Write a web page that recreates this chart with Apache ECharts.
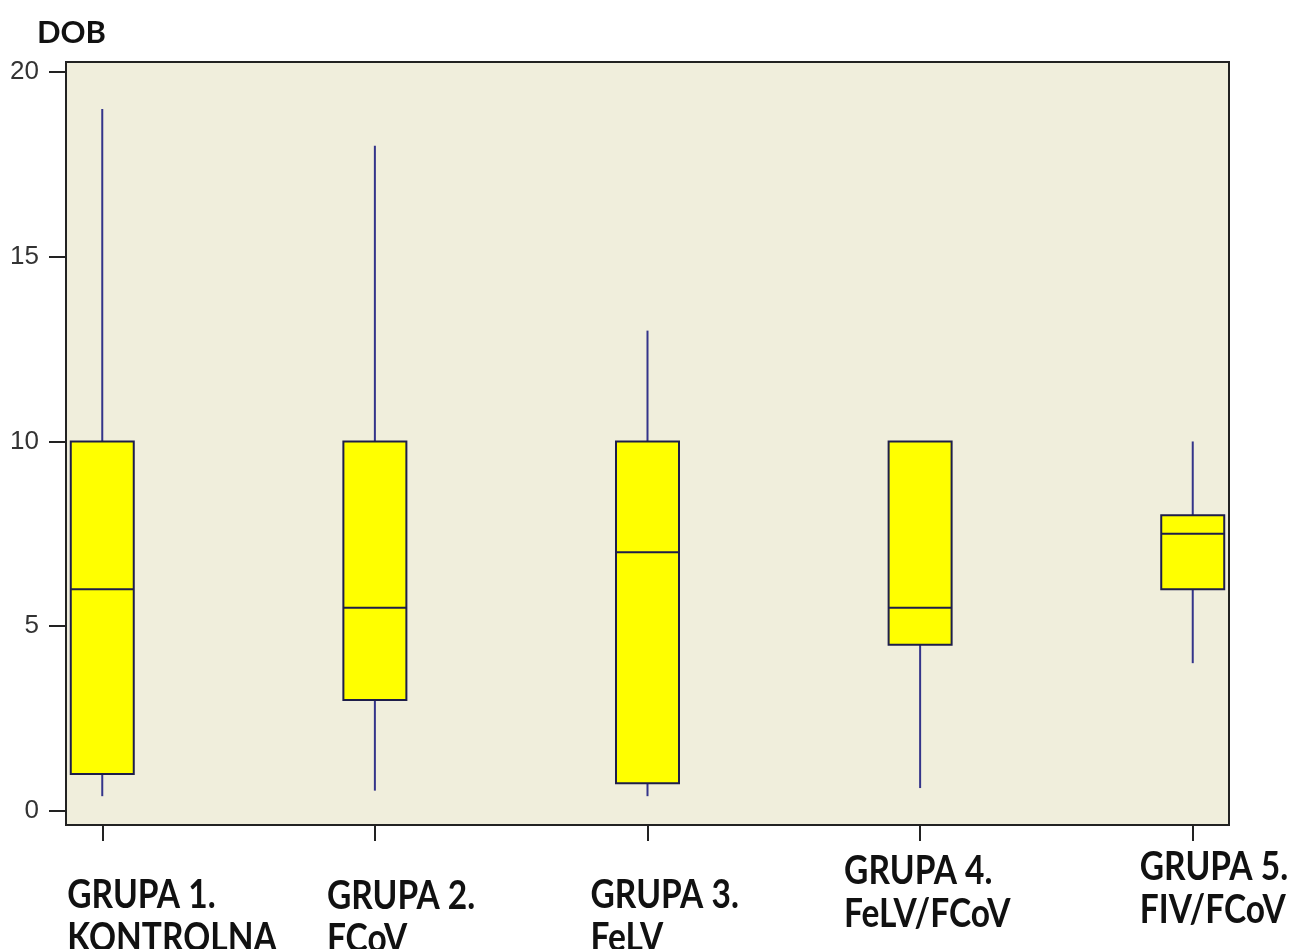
<!DOCTYPE html>
<html>
<head>
<meta charset="utf-8">
<script src="https://cdn.jsdelivr.net/npm/echarts@6/dist/echarts.min.js"></script>
<style>html,body{margin:0;padding:0;background:#fff;}#c{width:1293px;height:949px;}</style>
</head>
<body>
<div id="c"></div>
<script>
// ---- data ----
const groupLine1 = ['GRUPA 1.', 'GRUPA 2.', 'GRUPA 3.', 'GRUPA 4.', 'GRUPA 5.'];
const groupLine2 = ['KONTROLNA', 'FCoV', 'FeLV', 'FeLV/FCoV', 'FIV/FCoV'];
const mins    = [0.4, 0.55, 0.4, 0.62, 4.0];
const q1s     = [1.0, 3.0, 0.75, 4.5, 6.0];
const medians = [6.0, 5.5, 7.0, 5.5, 7.5];
const q3s     = [10, 10, 10, 10, 8];
const maxs    = [19, 18, 13, 10, 10];
const yTicks  = [0, 5, 10, 15, 20];
const yTitle  = 'DOB';

// ---- build ----
const xTicks = groupLine1.map((_, i) => i);
const boxData = groupLine1.map((_, i) => [i, mins[i], q1s[i], medians[i], q3s[i], maxs[i]]);

const chart = echarts.init(document.getElementById('c'), null, {renderer: 'canvas'});

const BOX_W = 63;
function renderBox(params, api) {
  const x = api.value(0);
  const pMin = api.coord([x, api.value(1)]);
  const pQ1 = api.coord([x, api.value(2)]);
  const pMed = api.coord([x, api.value(3)]);
  const pQ3 = api.coord([x, api.value(4)]);
  const pMax = api.coord([x, api.value(5)]);
  const cx = pMed[0];
  const half = BOX_W / 2;
  const whisker = {stroke: '#34348a', lineWidth: 2};
  const edge = {stroke: '#1e1e4a', lineWidth: 2};
  const children = [];
  if (pQ3[1] - pMax[1] > 0.5) {
    children.push({type: 'line', shape: {x1: cx, y1: pMax[1], x2: cx, y2: pQ3[1]}, style: whisker});
  }
  if (pMin[1] - pQ1[1] > 0.5) {
    children.push({type: 'line', shape: {x1: cx, y1: pQ1[1], x2: cx, y2: pMin[1]}, style: whisker});
  }
  children.push({type: 'rect', shape: {x: cx - half, y: pQ3[1], width: BOX_W, height: pQ1[1] - pQ3[1]},
    style: {fill: '#FFFF00', stroke: '#1e1e4a', lineWidth: 2}});
  children.push({type: 'line', shape: {x1: cx - half, y1: pMed[1], x2: cx + half, y2: pMed[1]}, style: edge});
  return {type: 'group', children: children};
}

const option = {
  animation: false,
  backgroundColor: '#ffffff',
  title: {
    text: yTitle, left: 37, top: 17, padding: 0,
    textStyle: {fontFamily: 'Lato', fontWeight: 'bold', fontSize: 31, color: '#111'}
  },
  grid: {
    left: 66, right: 64, top: 62, bottom: 124, containLabel: false,
    show: true, backgroundColor: '#F0EEDC', borderColor: '#222', borderWidth: 2
  },
  xAxis: {
    type: 'value', min: -0.133, max: 4.133,
    axisLine: {show: true, onZero: false, lineStyle: {color: '#222', width: 2}},
    axisTick: {show: true, customValues: xTicks, length: 16, lineStyle: {color: '#222', width: 2}},
    axisLabel: {show: false},
    splitLine: {show: false}
  },
  yAxis: {
    type: 'value', min: -0.38, max: 20.27,
    axisLine: {show: true, onZero: false, lineStyle: {color: '#222', width: 2}},
    axisTick: {show: true, customValues: yTicks, length: 17, lineStyle: {color: '#222', width: 2}},
    axisLabel: {show: true, customValues: yTicks, margin: 27, fontFamily: 'Liberation Sans', fontSize: 26, color: '#333'},
    splitLine: {show: false}
  },
  series: [{
    type: 'custom',
    renderItem: renderBox,
    encode: {x: 0, y: [1, 2, 3, 4, 5]},
    data: boxData,
    clip: false
  }]
};
chart.setOption(option);

// category labels, placed through the x axis scale
const labelDx = [-35, -48, -57, -76, -53];
const labelTop = [874, 875, 874, 850, 846];
const graphics = [];
groupLine1.forEach((l1, i) => {
  const px = chart.convertToPixel({xAxisIndex: 0}, i) + labelDx[i];
  graphics.push({
    type: 'text', x: px, y: labelTop[i], scaleY: 1.2,
    style: {text: l1 + '\n' + groupLine2[i], fontFamily: 'Lato', fontWeight: 'bold', fontSize: 33.5,
      lineHeight: 35.5, fill: '#111', align: 'left', verticalAlign: 'top'}
  });
});
chart.setOption({graphic: graphics});
</script>
</body>
</html>
